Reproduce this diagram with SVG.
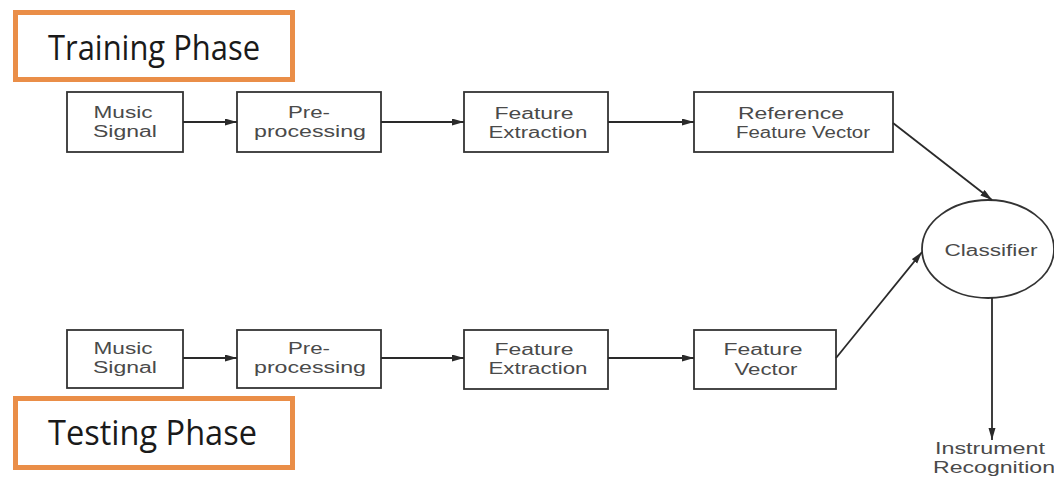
<svg xmlns="http://www.w3.org/2000/svg" width="1054" height="477" viewBox="0 0 1054 477">
<style>
.box{fill:#fff;stroke:#333;stroke-width:1.8}
.phase{fill:#fff;stroke:#EA8E48;stroke-width:5}
.lbl{font-family:"Liberation Sans",Arial,sans-serif;font-size:16px;fill:#4a4a4a;text-anchor:middle}
.ph{font-family:"Open Sans","Noto Sans",sans-serif;font-size:34px;fill:#1a1a1a}
.conn{stroke:#2a2a2a;stroke-width:1.8;fill:none;marker-end:url(#ah)}
</style>
<defs>
<marker id="ah" markerUnits="userSpaceOnUse" markerWidth="13" markerHeight="8" refX="12" refY="3.5" orient="auto">
<path d="M0,0 L12,3.5 L0,7 z" fill="#2a2a2a"/>
</marker>
</defs>
<rect width="1054" height="477" fill="#fff"/>
<g id="training-phase">
<rect class="phase" x="15.5" y="12.5" width="277" height="67"/>
<text class="ph" x="48" y="60" textLength="212" lengthAdjust="spacingAndGlyphs">Training Phase</text>
</g>
<g id="testing-phase">
<rect class="phase" x="15.5" y="398.5" width="277" height="69"/>
<text class="ph" x="48" y="445" textLength="209" lengthAdjust="spacingAndGlyphs">Testing Phase</text>
</g>
<g id="music-signal-1">
<rect class="box" x="67" y="92" width="116" height="60"/>
<text class="lbl" x="123" y="118" textLength="59" lengthAdjust="spacingAndGlyphs">Music</text>
<text class="lbl" x="125" y="137" textLength="64" lengthAdjust="spacingAndGlyphs">Signal</text>
</g>
<g id="preprocessing-1">
<rect class="box" x="237" y="92" width="144" height="60"/>
<text class="lbl" x="309" y="118" textLength="42" lengthAdjust="spacingAndGlyphs">Pre-</text>
<text class="lbl" x="310" y="137" textLength="112" lengthAdjust="spacingAndGlyphs">processing</text>
</g>
<g id="feature-extraction-1">
<rect class="box" x="464" y="92" width="144" height="60"/>
<text class="lbl" x="534" y="119" textLength="79" lengthAdjust="spacingAndGlyphs">Feature</text>
<text class="lbl" x="538" y="138" textLength="99" lengthAdjust="spacingAndGlyphs">Extraction</text>
</g>
<g id="reference-feature-vector">
<rect class="box" x="694" y="92" width="199" height="60"/>
<text class="lbl" x="791" y="119" textLength="106" lengthAdjust="spacingAndGlyphs">Reference</text>
<text class="lbl" x="803" y="138" textLength="134" lengthAdjust="spacingAndGlyphs">Feature Vector</text>
</g>
<g id="music-signal-2">
<rect class="box" x="67" y="330" width="116" height="58"/>
<text class="lbl" x="123" y="354" textLength="59" lengthAdjust="spacingAndGlyphs">Music</text>
<text class="lbl" x="125" y="373" textLength="64" lengthAdjust="spacingAndGlyphs">Signal</text>
</g>
<g id="preprocessing-2">
<rect class="box" x="237" y="330" width="144" height="58"/>
<text class="lbl" x="309" y="354" textLength="42" lengthAdjust="spacingAndGlyphs">Pre-</text>
<text class="lbl" x="310" y="373" textLength="112" lengthAdjust="spacingAndGlyphs">processing</text>
</g>
<g id="feature-extraction-2">
<rect class="box" x="464" y="330" width="144" height="59"/>
<text class="lbl" x="534" y="355" textLength="79" lengthAdjust="spacingAndGlyphs">Feature</text>
<text class="lbl" x="538" y="374" textLength="99" lengthAdjust="spacingAndGlyphs">Extraction</text>
</g>
<g id="feature-vector">
<rect class="box" x="694" y="330" width="142" height="59"/>
<text class="lbl" x="763" y="355" textLength="79" lengthAdjust="spacingAndGlyphs">Feature</text>
<text class="lbl" x="766" y="375" textLength="63" lengthAdjust="spacingAndGlyphs">Vector</text>
</g>
<g id="classifier">
<ellipse class="box" cx="988" cy="249" rx="66" ry="49"/>
<text class="lbl" x="991" y="256" textLength="93" lengthAdjust="spacingAndGlyphs">Classifier</text>
</g>
<g id="instrument-recognition">
<text class="lbl" x="990" y="454" textLength="110" lengthAdjust="spacingAndGlyphs">Instrument</text>
<text class="lbl" x="994" y="473" textLength="122" lengthAdjust="spacingAndGlyphs">Recognition</text>
</g>
<g id="connectors">
<line class="conn" x1="183" y1="122" x2="237" y2="122"/>
<line class="conn" x1="381" y1="122" x2="464" y2="122"/>
<line class="conn" x1="608" y1="122" x2="694" y2="122"/>
<line class="conn" x1="893" y1="123" x2="992" y2="200"/>
<line class="conn" x1="183" y1="358" x2="237" y2="358"/>
<line class="conn" x1="381" y1="358" x2="464" y2="358"/>
<line class="conn" x1="608" y1="358" x2="694" y2="358"/>
<line class="conn" x1="836" y1="358" x2="922" y2="252"/>
<line class="conn" x1="992" y1="298" x2="992" y2="440"/>
</g>
</svg>
